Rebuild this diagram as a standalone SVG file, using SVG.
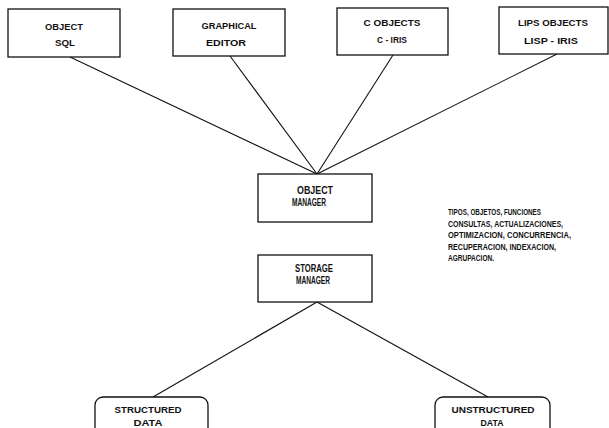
<svg xmlns="http://www.w3.org/2000/svg" width="609" height="428" viewBox="0 0 609 428">
<style>
.box{fill:#fff;stroke:#111;stroke-width:1.3}
.t{font-family:"Liberation Sans Narrow","Liberation Sans",Arial,sans-serif;font-size:9.5px;font-weight:bold;fill:#111;text-anchor:middle}
.m{font-size:10.5px}
.s{font-family:"Liberation Sans Narrow","Liberation Sans",Arial,sans-serif;font-size:9.5px;font-weight:bold;fill:#111}
.c{stroke:#111;stroke-width:1.1;fill:none}
</style>
<rect width="609" height="428" fill="#fff"/>
<g id="connectors">
<line class="c" x1="70" y1="57" x2="317" y2="174"/>
<line class="c" x1="230" y1="56" x2="317" y2="174"/>
<line class="c" x1="393" y1="55" x2="317" y2="174"/>
<line class="c" x1="557" y1="54" x2="317" y2="174"/>
<line class="c" x1="317" y1="302" x2="153" y2="397"/>
<line class="c" x1="317" y1="302" x2="488" y2="397"/>
</g>
<g id="object-sql">
<rect class="box" x="8" y="9" width="112" height="48"/>
<text class="t" x="64" y="30" textLength="38" lengthAdjust="spacingAndGlyphs">OBJECT</text>
<text class="t" x="65" y="46" textLength="20" lengthAdjust="spacingAndGlyphs">SQL</text>
</g>
<g id="graphical-editor">
<rect class="box" x="173" y="9" width="112" height="47"/>
<text class="t" x="229" y="29" textLength="55" lengthAdjust="spacingAndGlyphs">GRAPHICAL</text>
<text class="t" x="226" y="46" textLength="40" lengthAdjust="spacingAndGlyphs">EDITOR</text>
</g>
<g id="c-objects">
<rect class="box" x="337" y="8" width="111" height="47"/>
<text class="t" x="392" y="26" textLength="57" lengthAdjust="spacingAndGlyphs">C OBJECTS</text>
<text class="t" x="392" y="43" textLength="30" lengthAdjust="spacingAndGlyphs">C - IRIS</text>
</g>
<g id="lips-objects">
<rect class="box" x="499" y="7" width="109" height="47"/>
<text class="t" x="553" y="26" textLength="70" lengthAdjust="spacingAndGlyphs">LIPS OBJECTS</text>
<text class="t" x="551" y="44" textLength="54" lengthAdjust="spacingAndGlyphs">LISP - IRIS</text>
</g>
<g id="object-manager">
<rect class="box" x="258" y="174" width="114" height="48"/>
<text class="t m" x="315" y="194" textLength="36" lengthAdjust="spacingAndGlyphs">OBJECT</text>
<text class="t m" x="309" y="206" textLength="34" lengthAdjust="spacingAndGlyphs">MANAGER</text>
</g>
<g id="storage-manager">
<rect class="box" x="258" y="255" width="114" height="47"/>
<text class="t m" x="314" y="272" textLength="38" lengthAdjust="spacingAndGlyphs">STORAGE</text>
<text class="t m" x="313" y="284" textLength="34" lengthAdjust="spacingAndGlyphs">MANAGER</text>
</g>
<g id="notes">
<text class="s" x="448" y="215" textLength="93" lengthAdjust="spacingAndGlyphs">TIPOS, OBJETOS, FUNCIONES</text>
<text class="s" x="448" y="226.5" textLength="115" lengthAdjust="spacingAndGlyphs">CONSULTAS, ACTUALIZACIONES,</text>
<text class="s" x="448" y="238" textLength="123" lengthAdjust="spacingAndGlyphs">OPTIMIZACION, CONCURRENCIA,</text>
<text class="s" x="448" y="249.5" textLength="108" lengthAdjust="spacingAndGlyphs">RECUPERACION, INDEXACION,</text>
<text class="s" x="448" y="261" textLength="46" lengthAdjust="spacingAndGlyphs">AGRUPACION.</text>
</g>
<g id="structured-data">
<rect class="box" x="95" y="397" width="113" height="40" rx="8"/>
<text class="t" x="148" y="413" textLength="67" lengthAdjust="spacingAndGlyphs">STRUCTURED</text>
<text class="t" x="148" y="426" textLength="29" lengthAdjust="spacingAndGlyphs">DATA</text>
</g>
<g id="unstructured-data">
<rect class="box" x="435" y="397" width="115" height="40" rx="8"/>
<text class="t" x="493" y="413" textLength="83" lengthAdjust="spacingAndGlyphs">UNSTRUCTURED</text>
<text class="t" x="492" y="426" textLength="23" lengthAdjust="spacingAndGlyphs">DATA</text>
</g>
</svg>
